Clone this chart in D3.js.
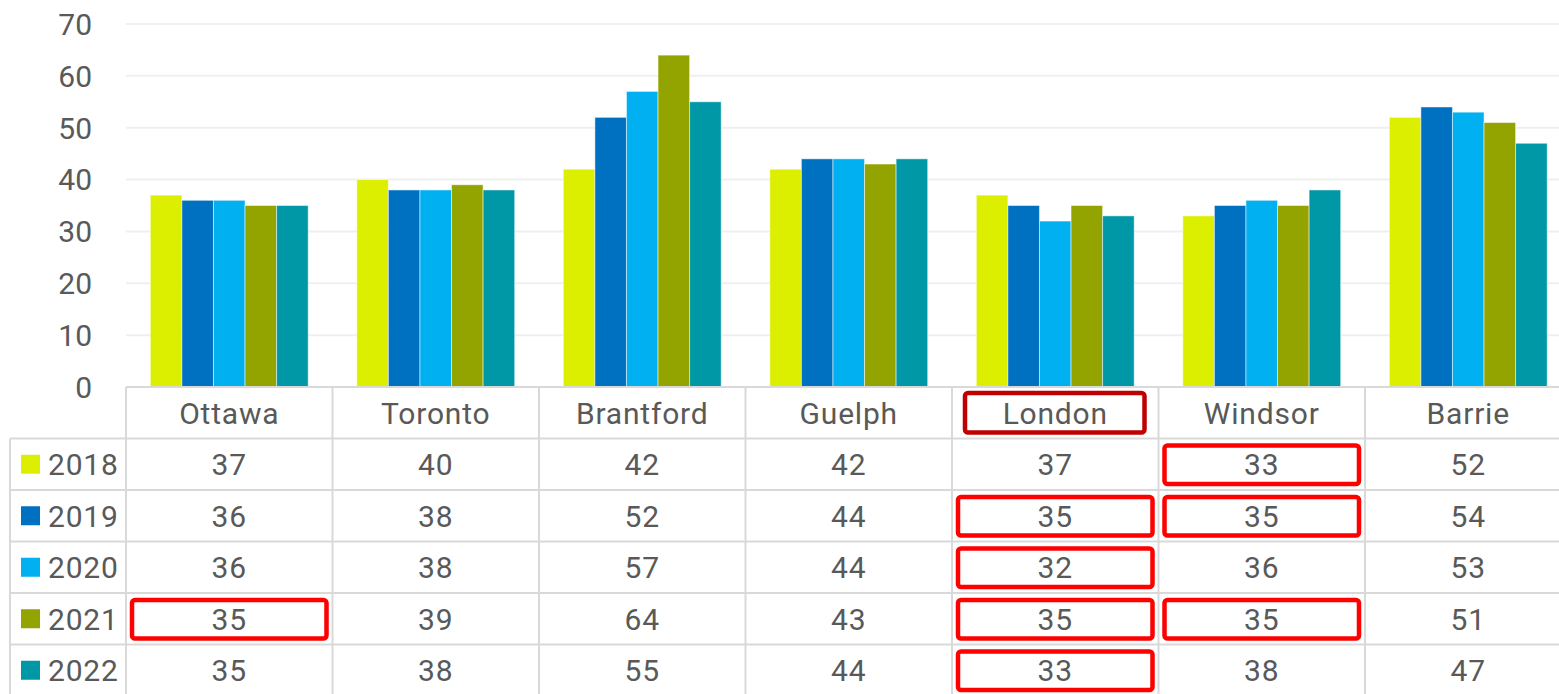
<!DOCTYPE html>
<html>
<head>
<meta charset="utf-8">
<script src="https://cdn.jsdelivr.net/npm/d3@7"></script>
<style>
  body { margin: 0; background: #fff; }
  svg { display: block; font-family: Roboto, "Noto Sans", sans-serif; }
</style>
</head>
<body>
<svg id="svg1" width="1559" height="694"></svg>
<script>
var cities = ['Ottawa', 'Toronto', 'Brantford', 'Guelph', 'London', 'Windsor', 'Barrie'];
var years = ['2018', '2019', '2020', '2021', '2022'];

var v2018 = [37, 40, 42, 42, 37, 33, 52];
var v2019 = [36, 38, 52, 44, 35, 35, 54];
var v2020 = [36, 38, 57, 44, 32, 36, 53];
var v2021 = [35, 39, 64, 43, 35, 35, 51];
var v2022 = [35, 38, 55, 44, 33, 38, 47];

var yTicks = [0, 10, 20, 30, 40, 50, 60, 70];

var colors = ['#dcef00', '#0070c0', '#00b0f0', '#93a300', '#0097a7'];

// highlighted cells: [city, year]
var redCells = [
    ['Windsor', '2018'],
    ['London', '2019'], ['Windsor', '2019'],
    ['London', '2020'],
    ['Ottawa', '2021'], ['London', '2021'], ['Windsor', '2021'],
    ['London', '2022']
];
var darkRedHeaders = ['London'];

var series = [v2018, v2019, v2020, v2021, v2022];

var svg = d3.select('#svg1');

var plotLeft = 126;
var colW = 206.5;
var plotTop = 24;
var plotBottom = 387;
var rowH = 51.5;
var tableLeft = 10;
var right = plotLeft + colW * cities.length;
var fs = 30;

var x = d3.scaleBand()
    .domain(cities)
    .range([plotLeft, right]);

var xInner = d3.scaleBand()
    .domain(years)
    .range([0, x.bandwidth()])
    .paddingOuter(0.77);

var y = d3.scaleLinear()
    .domain([0, 70])
    .range([plotBottom, plotTop]);

// rows of table: header + years
var rowY = d3.scaleBand()
    .domain(['header'].concat(years))
    .range([plotBottom, plotBottom + rowH * (years.length + 1)]);

// gridlines
svg.append('g')
    .selectAll('line')
    .data(yTicks.filter(function (d) { return d > 0; }))
    .enter()
    .append('line')
    .attr('x1', plotLeft)
    .attr('x2', right)
    .attr('y1', function (d) { return y(d); })
    .attr('y2', function (d) { return y(d); })
    .attr('stroke', '#efefef')
    .attr('stroke-width', 2);

// y labels
svg.append('g')
    .selectAll('text')
    .data(yTicks)
    .enter()
    .append('text')
    .attr('x', 92)
    .attr('y', function (d) { return y(d); })
    .attr('dy', '0.36em')
    .attr('text-anchor', 'end')
    .attr('font-size', 30)
    .attr('fill', '#595959')
    .text(function (d) { return d; });

// bars
var groups = svg.append('g')
    .selectAll('g')
    .data(cities)
    .enter()
    .append('g')
    .attr('transform', function (d) { return 'translate(' + x(d) + ',0)'; });

groups.selectAll('rect')
    .data(function (d, i) {
        return years.map(function (yr, j) { return { year: yr, value: series[j][i], idx: j }; });
    })
    .enter()
    .append('rect')
    .attr('x', function (d) { return xInner(d.year); })
    .attr('y', function (d) { return y(d.value); })
    .attr('width', xInner.bandwidth())
    .attr('height', function (d) { return y(0) - y(d.value); })
    .attr('fill', function (d) { return colors[d.idx]; })
    .attr('stroke', '#ffffff')
    .attr('stroke-opacity', 0.5)
    .attr('stroke-width', 1);

// table grid
var tableBottom = rowY.range()[1] + 20;
var grid = svg.append('g').attr('stroke', '#d9d9d9').attr('stroke-width', 2);

grid.append('line')
    .attr('x1', plotLeft).attr('x2', right)
    .attr('y1', plotBottom).attr('y2', plotBottom);

grid.selectAll('line.row')
    .data(years)
    .enter()
    .append('line')
    .attr('class', 'row')
    .attr('x1', tableLeft).attr('x2', right)
    .attr('y1', function (d) { return rowY(d); })
    .attr('y2', function (d) { return rowY(d); });

grid.selectAll('line.col')
    .data(cities.concat(['end']))
    .enter()
    .append('line')
    .attr('class', 'col')
    .attr('x1', function (d, i) { return plotLeft + i * colW; })
    .attr('x2', function (d, i) { return plotLeft + i * colW; })
    .attr('y1', plotBottom)
    .attr('y2', tableBottom);

grid.append('line')
    .attr('x1', tableLeft).attr('x2', tableLeft)
    .attr('y1', rowY(years[0])).attr('y2', tableBottom);

// header labels
svg.append('g')
    .selectAll('text')
    .data(cities)
    .enter()
    .append('text')
    .attr('x', function (d) { return x(d) + x.bandwidth() / 2; })
    .attr('y', rowY('header') + rowH / 2)
    .attr('dy', '0.36em')
    .attr('text-anchor', 'middle')
    .attr('font-size', fs)
    .attr('letter-spacing', 0.8)
    .attr('fill', '#595959')
    .text(function (d) { return d; });

// legend column
var leg = svg.append('g')
    .selectAll('g')
    .data(years)
    .enter()
    .append('g')
    .attr('transform', function (d) { return 'translate(0,' + (rowY(d) + rowH / 2) + ')'; });

leg.append('rect')
    .attr('x', 21)
    .attr('y', -9.5)
    .attr('width', 19)
    .attr('height', 19)
    .attr('fill', function (d, i) { return colors[i]; });

leg.append('text')
    .attr('x', 48)
    .attr('dy', '0.36em')
    .attr('font-size', fs)
    .attr('letter-spacing', 0.8)
    .attr('fill', '#595959')
    .text(function (d) { return d; });

// cell values
years.forEach(function (yr, j) {
    svg.append('g')
        .selectAll('text')
        .data(series[j])
        .enter()
        .append('text')
        .attr('x', function (d, i) { return x(cities[i]) + x.bandwidth() / 2; })
        .attr('y', rowY(yr) + rowH / 2)
        .attr('dy', '0.36em')
        .attr('text-anchor', 'middle')
        .attr('font-size', fs)
        .attr('letter-spacing', 0.8)
        .attr('fill', '#595959')
        .text(function (d) { return d; });
});

// highlight boxes
svg.append('g')
    .selectAll('rect')
    .data(redCells)
    .enter()
    .append('rect')
    .attr('x', function (d) { return x(d[0]) + 6; })
    .attr('y', function (d) { return rowY(d[1]) + 7; })
    .attr('width', x.bandwidth() - 12)
    .attr('height', rowH - 13)
    .attr('rx', 3)
    .attr('fill', 'none')
    .attr('stroke', '#ff0000')
    .attr('stroke-width', 4.5);

svg.append('g')
    .selectAll('rect')
    .data(darkRedHeaders)
    .enter()
    .append('rect')
    .attr('x', function (d) { return x(d) + 13; })
    .attr('y', rowY('header') + 6)
    .attr('width', x.bandwidth() - 27)
    .attr('height', rowH - 12)
    .attr('rx', 3)
    .attr('fill', 'none')
    .attr('stroke', '#c00000')
    .attr('stroke-width', 4.5);
</script>
</body>
</html>
